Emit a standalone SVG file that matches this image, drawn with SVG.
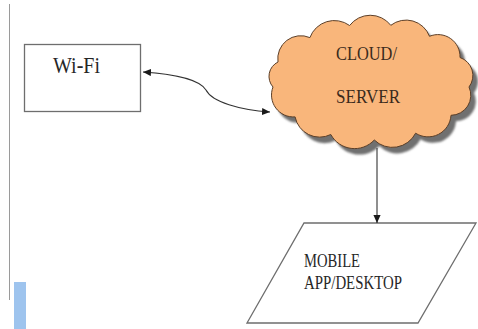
<svg xmlns="http://www.w3.org/2000/svg" width="478" height="329" viewBox="0 0 478 329">
<style>
  text { font-family: 'Liberation Serif', 'DejaVu Serif', serif; fill: #262626; }
  .cl { fill: #3a2a1c; }
  .box { fill: #ffffff; stroke: #6e6e6e; stroke-width: 1.3; }
  .conn { fill: none; stroke: #333333; stroke-width: 1.1; }
</style>
<defs>
  <marker id="arr" viewBox="0 0 10 10" refX="10" refY="5" markerWidth="8" markerHeight="8" markerUnits="userSpaceOnUse" orient="auto-start-reverse">
    <path d="M0,0.5 L10,5 L0,9.5 Z" fill="#1a1a1a"/>
  </marker>
  <filter id="blur" x="-10%" y="-10%" width="120%" height="120%">
    <feGaussianBlur stdDeviation="1.2"/>
  </filter>
  <path id="cloudPath" d="M278,62 A23,23 0 0 1 309.9,37.6 A26,26 0 0 1 349.6,25.5 A26,26 0 0 1 390.8,25.3 A25,25 0 0 1 429.5,36.3 A22,22 0 0 1 460,57.5 A19,19 0 0 1 469,87 A20,20 0 0 1 451,115.3 A23,23 0 0 1 415.6,133.2 A26,26 0 0 1 374.3,140 A27,27 0 0 1 330.8,134.5 A25,25 0 0 1 295.1,116.9 A22,22 0 0 1 273,87 A16,16 0 0 1 278,62 Z"/>
</defs>

<rect x="0" y="0" width="478" height="329" fill="#ffffff"/>
<line x1="9.5" y1="4" x2="9.5" y2="300" stroke="#9a9a9a" stroke-width="1"/>
<rect x="14" y="282" width="12" height="47" fill="#9ec4ee"/>

<g id="wifi">
  <rect class="box" x="24.5" y="44.5" width="116" height="67"/>
  <text font-family="Liberation Serif, serif" x="53" y="73" font-size="23" textLength="47" lengthAdjust="spacingAndGlyphs">Wi-Fi</text>
</g>

<g id="cloud">
  <use href="#cloudPath" transform="translate(5,6)" fill="#6f6f6f" filter="url(#blur)"/>
  <use href="#cloudPath" fill="#f9b67b" stroke="#5c3f28" stroke-width="1"/>
  <text class="cl" font-family="Liberation Serif, serif" x="336" y="60" font-size="19" textLength="61" lengthAdjust="spacingAndGlyphs">CLOUD/</text>
  <text class="cl" font-family="Liberation Serif, serif" x="336" y="103" font-size="19" textLength="64" lengthAdjust="spacingAndGlyphs">SERVER</text>
</g>

<g id="mobile">
  <polygon class="box" points="304,223 476,223 418,323 247,323"/>
  <text font-family="Liberation Serif, serif" x="304" y="267" font-size="18" textLength="56" lengthAdjust="spacingAndGlyphs">MOBILE</text>
  <text font-family="Liberation Serif, serif" x="304" y="289" font-size="18" textLength="98" lengthAdjust="spacingAndGlyphs">APP/DESKTOP</text>
</g>

<g id="connectors">
  <path class="conn" d="M143,72 C175,74 200,80 206,90 C212,102 240,110 270,112" marker-start="url(#arr)" marker-end="url(#arr)"/>
  <line class="conn" x1="377" y1="148" x2="377" y2="223" marker-end="url(#arr)"/>
</g>
</svg>
